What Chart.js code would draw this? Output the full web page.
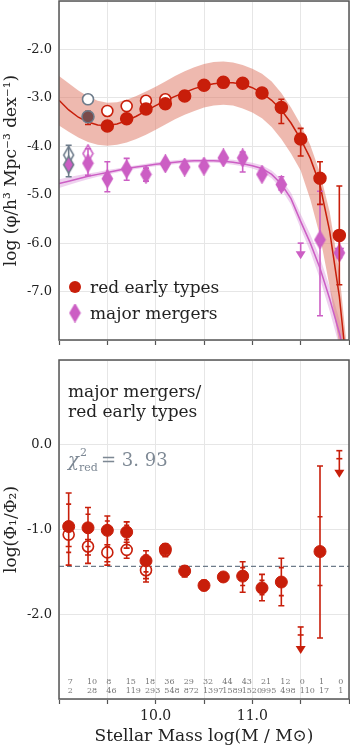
<!DOCTYPE html>
<html>
<head>
<meta charset="utf-8">
<script src="https://cdn.jsdelivr.net/npm/chart.js@4.4.0/dist/chart.umd.min.js"></script>
<style>
  html, body { margin: 0; padding: 0; background: #fff; }
  #wrap { position: relative; width: 350px; height: 747px; }
  canvas { position: absolute; left: 0; }
</style>
</head>
<body>
<div id="wrap">
  <canvas id="top" width="350" height="355" style="top:0"></canvas>
  <canvas id="bot" width="350" height="392" style="top:355px"></canvas>
</div>
<script>
// ---- data ----
var massBins = [9.1, 9.3, 9.5, 9.7, 9.9, 10.1, 10.3, 10.5, 10.7, 10.9, 11.1, 11.3, 11.5, 11.7, 11.9];

// top panel: red early types
var redPhi   = [null, -3.39, -3.58, -3.43, -3.23, -3.12, -2.96, -2.74, -2.68, -2.70, -2.90, -3.20, -3.85, -4.66, -5.84];
var redErrHi = [null, -3.28, -3.53, -3.38, -3.18, -3.08, -2.92, -2.70, -2.64, -2.66, -2.85, -3.03, -3.63, -4.32, -4.82];
var redErrLo = [null, -3.55, -3.63, -3.48, -3.28, -3.16, -3.00, -2.78, -2.72, -2.74, -2.95, -3.53, -4.20, -5.20, -6.86];
var redOpenPhi = [null, -3.03, -3.27, -3.17, -3.06, -3.03, null, null, null, null, null, null, null, null, null];

// top panel: major mergers
var mergerPhi   = [-4.38, -4.35, -4.67, -4.47, -4.58, -4.36, -4.43, -4.41, -4.24, -4.24, -4.58, -4.79, null, -5.93, -6.20];
var mergerErrHi = [-3.98, -4.05, -4.32, -4.25, -4.45, -4.30, -4.37, -4.35, -4.18, -4.12, -4.52, -4.63, null, -4.93, -5.95];
var mergerErrLo = [-4.63, -4.60, -4.94, -4.70, -4.72, -4.42, -4.49, -4.47, -4.30, -4.53, -4.64, -4.90, null, -7.50, -6.30];
var mergerOpenPhi = [-4.18, -4.15, null, null, null, null, null, null, null, null, null, null, null, null, null];
var mergerLimit   = [null, null, null, null, null, null, null, null, null, null, null, null, -6.00, null, -5.93];

// fitted curves and their bands
var fitMass = [9.0, 9.1, 9.2, 9.3, 9.4, 9.5, 9.6, 9.7, 9.8, 9.9, 10.0, 10.1, 10.2, 10.3, 10.4, 10.5,
               10.6, 10.7, 10.8, 10.9, 11.0, 11.1, 11.2, 11.3, 11.4, 11.5, 11.6, 11.7, 11.8, 11.9, 12.0];
var redFit    = [-3.05, -3.25, -3.40, -3.50, -3.56, -3.57, -3.54, -3.47, -3.38, -3.27, -3.16, -3.06, -2.97, -2.89, -2.81, -2.75,
                 -2.71, -2.69, -2.69, -2.72, -2.79, -2.90, -3.05, -3.25, -3.52, -3.85, -4.25, -4.80, -5.75, -7.10, -9.00];
var redBandHi = [-2.55, -2.70, -2.85, -2.97, -3.06, -3.10, -3.09, -3.04, -2.96, -2.87, -2.77, -2.66, -2.55, -2.45, -2.37, -2.30,
                 -2.26, -2.25, -2.27, -2.32, -2.40, -2.50, -2.66, -2.90, -3.20, -3.55, -3.98, -4.55, -5.35, -6.60, -8.60];
var redBandLo = [-3.57, -3.70, -3.82, -3.91, -3.97, -3.99, -3.97, -3.92, -3.85, -3.76, -3.66, -3.55, -3.44, -3.35, -3.27, -3.20,
                 -3.16, -3.14, -3.16, -3.22, -3.30, -3.42, -3.60, -3.85, -4.15, -4.50, -5.10, -5.85, -6.90, -8.10, -9.50];
var mergerFit    = [-4.77, -4.72, -4.67, -4.62, -4.58, -4.54, -4.50, -4.46, -4.43, -4.40, -4.37, -4.35, -4.33, -4.31, -4.30, -4.30,
                    -4.30, -4.31, -4.33, -4.36, -4.40, -4.46, -4.58, -4.78, -5.08, -5.55, -6.00, -6.52, -7.15, -7.85, -8.70];
var mergerBandHi = [-4.68, -4.64, -4.60, -4.56, -4.53, -4.49, -4.46, -4.42, -4.39, -4.36, -4.33, -4.31, -4.29, -4.27, -4.26, -4.26,
                    -4.26, -4.27, -4.28, -4.31, -4.34, -4.39, -4.50, -4.68, -4.96, -5.40, -5.82, -6.30, -6.90, -7.57, -8.40];
var mergerBandLo = [-4.86, -4.80, -4.74, -4.68, -4.63, -4.59, -4.54, -4.50, -4.47, -4.44, -4.41, -4.39, -4.37, -4.35, -4.34, -4.34,
                    -4.34, -4.35, -4.38, -4.41, -4.46, -4.53, -4.66, -4.88, -5.20, -5.70, -6.18, -6.74, -7.40, -8.13, -9.00];

// bottom panel: ratio
var ratio      = [-0.965, -0.98, -1.01, -1.03, -1.37, -1.23, -1.49, -1.66, -1.56, -1.55, -1.69, -1.62, null, -1.26, null];
var ratioErrHi = [-0.57, -0.74, -0.84, -0.91, -1.25, -1.17, -1.43, -1.60, -1.52, -1.38, -1.53, -1.34, null, -0.25, null];
var ratioErrLo = [-1.42, -1.40, -1.42, -1.22, -1.58, -1.32, -1.56, -1.72, -1.60, -1.74, -1.84, -1.90, null, -2.28, null];
var ratioInHi  = [-0.70, -0.82, -0.90, -0.95, -1.30, null, null, null, null, -1.45, -1.60, -1.45, null, -0.85, null];
var ratioInLo  = [-1.27, -1.20, -1.20, -1.12, -1.50, null, null, null, null, -1.66, -1.77, -1.78, null, -1.66, null];
var ratioOpen  = [-1.06, -1.20, -1.27, -1.24, -1.48, -1.25, null, null, null, null, null, null, null, null, null];
var ratioOpenHi = [-0.95, -1.12, -1.18, -1.15, -1.40, -1.20, null, null, null, null, null, null, null, null, null];
var ratioOpenLo = [-1.20, -1.30, -1.38, -1.34, -1.62, -1.30, null, null, null, null, null, null, null, null, null];
var ratioLimit = [null, null, null, null, null, null, null, null, null, null, null, null, -2.15, null, -0.07];
var ratioMean = -1.435;

var mergerCounts = [7, 10, 8, 15, 18, 36, 29, 32, 44, 43, 21, 12, 0, 1, 0];
var redCounts    = [2, 28, 46, 119, 293, 548, 872, 1397, 1589, 1520, 995, 498, 110, 17, 1];

var xTicks = ['10.0', '11.0'];
var topTicks = ['-2.0', '-3.0', '-4.0', '-5.0', '-6.0', '-7.0'];
var botTicks = ['0.0', '-1.0', '-2.0'];

// ---- styling ----
var RED = '#c81e0a';
var PINK = '#cc5ec4';
var GRAY = '#6d7b8a';
var SERIF = "'DejaVu Serif', serif";

function pts(vals) {
  return massBins.map(function(m, i) { return { x: m, y: vals[i] }; });
}
function curve(vals) {
  return fitMass.map(function(m, i) { return { x: m, y: vals[i] }; });
}

// thin diamond marker
function diamond(fill, edge) {
  var c = document.createElement('canvas');
  c.width = 13; c.height = 19;
  var g = c.getContext('2d');
  g.beginPath();
  g.moveTo(6.5, 1); g.lineTo(11.5, 9.5); g.lineTo(6.5, 18); g.lineTo(1.5, 9.5); g.closePath();
  g.fillStyle = fill; g.fill();
  g.lineWidth = 1.5; g.strokeStyle = edge; g.stroke();
  return c;
}
var dFill = diamond(PINK, PINK);
var dOpen = diamond('#fff', PINK);
var dGrayFill = diamond(PINK, GRAY);
var dGrayOpen = diamond('#fff', GRAY);

var errorBars = {
  id: 'errorBars',
  beforeDatasetDraw: function(chart, args) {
    var ds = chart.data.datasets[args.index];
    if (!ds.errHi && !ds.limit) return;
    var ctx = chart.ctx, xs = chart.scales.x, ys = chart.scales.y, a = chart.chartArea;
    ctx.save();
    ctx.beginPath();
    ctx.rect(a.left, a.top, a.right - a.left, a.bottom - a.top);
    ctx.clip();
    ctx.lineWidth = 1.6;
    ds.data.forEach(function(p, i) {
      var col = (ds.barColors && ds.barColors[i]) || ds.barColor;
      ctx.strokeStyle = col; ctx.fillStyle = col;
      var px = xs.getPixelForValue(p.x);
      if (ds.limit) {
        if (ds.limit[i] == null) return;
        var py = ys.getPixelForValue(ds.limit[i]);
        var tip = py + ds.arrowLen;
        ctx.beginPath(); ctx.moveTo(px, py); ctx.lineTo(px, tip - 6); ctx.stroke();
        ctx.beginPath(); ctx.moveTo(px - 3, py); ctx.lineTo(px + 3, py); ctx.stroke();
        if (ds.secondCap) {
          ctx.beginPath(); ctx.moveTo(px - 3, py + ds.secondCap); ctx.lineTo(px + 3, py + ds.secondCap); ctx.stroke();
        }
        ctx.beginPath(); ctx.moveTo(px - 5, tip - 8); ctx.lineTo(px + 5, tip - 8); ctx.lineTo(px, tip); ctx.closePath(); ctx.fill();
        return;
      }
      if (ds.errHi[i] == null) return;
      var hi = ys.getPixelForValue(ds.errHi[i]), lo = ys.getPixelForValue(ds.errLo[i]);
      ctx.beginPath(); ctx.moveTo(px, hi); ctx.lineTo(px, lo); ctx.stroke();
      ctx.beginPath();
      ctx.moveTo(px - 3, hi); ctx.lineTo(px + 3, hi);
      ctx.moveTo(px - 3, lo); ctx.lineTo(px + 3, lo);
      if (ds.inHi && ds.inHi[i] != null) {
        var ih = ys.getPixelForValue(ds.inHi[i]), il = ys.getPixelForValue(ds.inLo[i]);
        ctx.moveTo(px - 2.5, ih); ctx.lineTo(px + 2.5, ih);
        ctx.moveTo(px - 2.5, il); ctx.lineTo(px + 2.5, il);
      }
      ctx.stroke();
    });
    ctx.restore();
  }
};

var frame = {
  id: 'frame',
  afterDraw: function(chart) {
    var a = chart.chartArea, ctx = chart.ctx;
    ctx.save();
    ctx.strokeStyle = '#555';
    ctx.lineWidth = 1.5;
    ctx.strokeRect(a.left, a.top, a.right - a.left, a.bottom - a.top);
    ctx.restore();
  }
};

var legendTop = {
  id: 'legendTop',
  afterDraw: function(chart) {
    var a = chart.chartArea, ctx = chart.ctx;
    ctx.save();
    ctx.fillStyle = RED;
    ctx.beginPath(); ctx.arc(a.left + 16, a.bottom - 53, 6, 0, Math.PI * 2); ctx.fill();
    ctx.drawImage(dFill, a.left + 16 - 6.5, a.bottom - 27 - 9.5);
    ctx.fillStyle = '#222';
    ctx.font = '17px ' + SERIF;
    ctx.textBaseline = 'alphabetic';
    ctx.fillText('red early types', a.left + 31, a.bottom - 47);
    ctx.fillText('major mergers', a.left + 31, a.bottom - 21);
    ctx.restore();
  }
};

var notesBot = {
  id: 'notesBot',
  afterDraw: function(chart) {
    var a = chart.chartArea, ctx = chart.ctx, xs = chart.scales.x;
    ctx.save();
    ctx.fillStyle = '#222';
    ctx.font = '17px ' + SERIF;
    ctx.fillText('major mergers/', a.left + 9, a.top + 37);
    ctx.fillText('red early types', a.left + 9, a.top + 57);
    ctx.fillStyle = '#7d8894';
    ctx.font = 'italic 18px ' + SERIF;
    ctx.fillText('\u03c7', a.left + 9, a.top + 106);
    ctx.font = '11px ' + SERIF;
    ctx.fillText('2', a.left + 21, a.top + 96);
    ctx.fillText('red', a.left + 20, a.top + 111);
    ctx.font = '18px ' + SERIF;
    ctx.fillText('= 3. 93', a.left + 42, a.top + 106);
    // sample sizes
    ctx.fillStyle = '#777';
    ctx.font = '8px ' + SERIF;
    massBins.forEach(function(m, i) {
      var px = xs.getPixelForValue(m) - 1;
      ctx.fillText(String(mergerCounts[i]), px, a.bottom - 15);
      ctx.fillText(String(redCounts[i]), px, a.bottom - 6);
    });
    ctx.restore();
  }
};

function xScale(showLabels, height) {
  return {
    type: 'linear', min: 9.0, max: 12.0,
    afterFit: function(s) { s.height = height; s.paddingLeft = 0; s.paddingRight = 0; },
    grid: { color: '#e6e6e6', lineWidth: 1, tickLength: 5, tickColor: '#555', tickWidth: 1.2 },
    border: { display: false },
    ticks: {
      stepSize: 0.5, autoSkip: false, maxRotation: 0, color: '#222', padding: 4,
      font: { family: SERIF, size: 14 },
      callback: function(v) {
        if (!showLabels) return '';
        var t = v.toFixed(1);
        return xTicks.indexOf(t) >= 0 ? t : '';
      }
    },
    title: showLabels ? { display: true, text: 'Stellar Mass log(M / M\u2299)', color: '#222',
      font: { family: SERIF, size: 17 }, padding: { top: 2, bottom: 0 } } : { display: false }
  };
}

function yScale(min, max, labels, title) {
  return {
    type: 'linear', min: min, max: max,
    afterFit: function(s) { s.width = 59; s.paddingTop = 0; s.paddingBottom = 0; },
    grid: { color: '#e6e6e6', lineWidth: 1, tickLength: 5, tickColor: 'rgba(0,0,0,0)' },
    border: { display: false },
    ticks: {
      stepSize: 1, color: '#222', padding: 2,
      font: { family: SERIF, size: 13 },
      callback: function(v) {
        var t = v.toFixed(1);
        return labels.indexOf(t) >= 0 ? t : '';
      }
    },
    title: { display: true, text: title, color: '#222', font: { family: SERIF, size: 17 }, padding: { top: 1, bottom: 0 } }
  };
}

var baseOpts = {
  responsive: false,
  animation: false,
  events: [],
  plugins: { legend: { display: false }, tooltip: { enabled: false } }
};

new Chart(document.getElementById('top').getContext('2d'), {
  type: 'scatter',
  data: {
    datasets: [
      { data: pts(redPhi), errHi: redErrHi, errLo: redErrLo, barColor: RED,
        pointRadius: 6, backgroundColor: RED,
        pointBorderColor: [RED, GRAY, RED, RED, RED, RED, RED, RED, RED, RED, RED, RED, RED, RED, RED],
        pointBackgroundColor: [RED, '#7a4b4b', RED, RED, RED, RED, RED, RED, RED, RED, RED, RED, RED, RED, RED],
        borderWidth: 1.5 },
      { data: pts(redOpenPhi), pointRadius: 5.5, borderWidth: 1.6, backgroundColor: '#fff',
        pointBorderColor: [RED, GRAY, RED, RED, RED, RED, RED, RED, RED, RED, RED, RED, RED, RED, RED] },
      { data: pts(mergerPhi), errHi: mergerErrHi, errLo: mergerErrLo, barColor: PINK,
        barColors: [GRAY], pointStyle: [dGrayFill].concat(massBins.slice(1).map(function() { return dFill; })) },
      { data: pts(mergerOpenPhi), pointStyle: [dGrayOpen, dOpen] },
      { data: pts(mergerLimit), limit: mergerLimit, arrowLen: 16, barColor: PINK, pointRadius: 0 },
      { data: curve(redFit), showLine: true, borderColor: RED, borderWidth: 1.5, pointRadius: 0 },
      { data: curve(mergerFit), showLine: true, borderColor: PINK, borderWidth: 1.5, pointRadius: 0 },
      { data: curve(redBandHi), showLine: true, borderWidth: 0, pointRadius: 0, fill: '+1',
        backgroundColor: 'rgba(222,115,95,0.5)' },
      { data: curve(redBandLo), showLine: true, borderWidth: 0, pointRadius: 0 },
      { data: curve(mergerBandHi), showLine: true, borderWidth: 0, pointRadius: 0, fill: '+1',
        backgroundColor: 'rgba(215,140,215,0.4)' },
      { data: curve(mergerBandLo), showLine: true, borderWidth: 0, pointRadius: 0 }
    ]
  },
  options: Object.assign({}, baseOpts, {
    layout: { autoPadding: false, padding: { top: 1, right: 1, left: 0, bottom: 0 } },
    scales: {
      x: xScale(false, 15),
      y: yScale(-8, -1, topTicks, 'log (\u03c6/h\u00b3 Mpc\u207b\u00b3 dex\u207b\u00b9)')
    }
  }),
  plugins: [errorBars, frame, legendTop]
});

new Chart(document.getElementById('bot').getContext('2d'), {
  type: 'scatter',
  data: {
    datasets: [
      { data: pts(ratio), errHi: ratioErrHi, errLo: ratioErrLo, inHi: ratioInHi, inLo: ratioInLo,
        barColor: RED, pointRadius: 6, backgroundColor: RED, borderColor: RED },
      { data: pts(ratioOpen), errHi: ratioOpenHi, errLo: ratioOpenLo, barColor: RED,
        pointRadius: 5.5, borderWidth: 1.6, backgroundColor: '#fff', borderColor: RED },
      { data: pts(ratioLimit), limit: ratioLimit, arrowLen: 27, secondCap: 8, barColor: RED, pointRadius: 0 },
      { data: [{ x: 9.0, y: ratioMean }, { x: 12.0, y: ratioMean }], showLine: true, pointRadius: 0,
        borderColor: '#6d7b8a', borderWidth: 1.2, borderDash: [5, 3] }
    ]
  },
  options: Object.assign({}, baseOpts, {
    layout: { autoPadding: false, padding: { top: 5, right: 1, left: 0, bottom: 0 } },
    scales: {
      x: xScale(true, 48),
      y: yScale(-3, 1, botTicks, 'log(\u03a6\u2081/\u03a6\u2082)')
    }
  }),
  plugins: [errorBars, frame, notesBot]
});
</script>
</body>
</html>
